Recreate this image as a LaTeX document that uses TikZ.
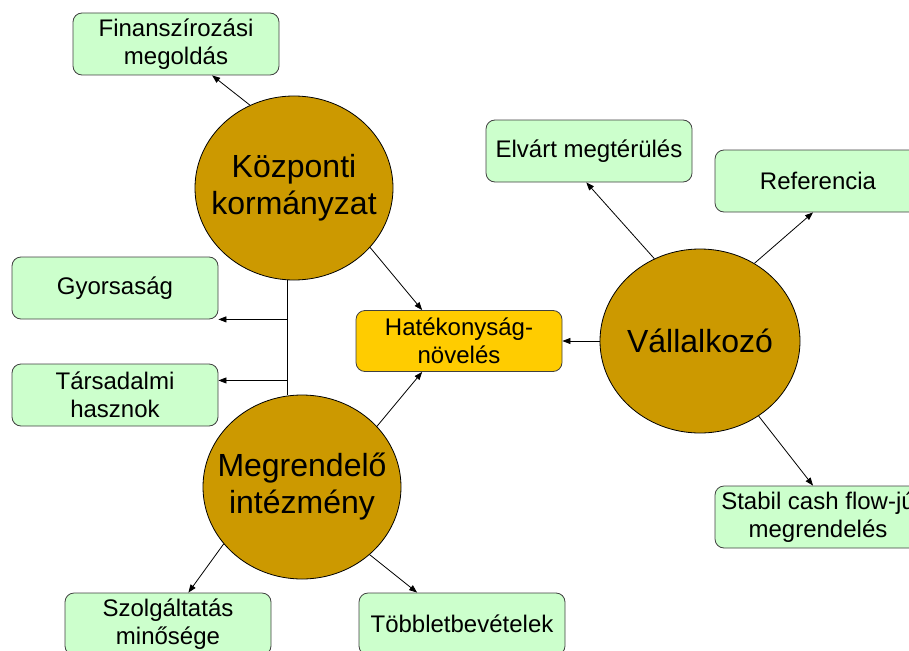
\documentclass[tikz,border=0pt]{standalone}
\usepackage{fontspec}
\setmainfont{Liberation Sans}
\usetikzlibrary{shapes.geometric,arrows.meta}
\definecolor{gold}{HTML}{CC9900}
\definecolor{mint}{HTML}{CCFFCC}
\definecolor{amber}{HTML}{FFCC00}
\begin{document}
\begin{tikzpicture}[x=1pt,y=-1pt,
    actor/.style={ellipse,draw=black,line width=0.8pt,fill=gold,minimum width=198pt,minimum height=184pt,inner sep=0pt,
        label={[align=center,font=\fontsize{32}{37}\selectfont]center:#1}},
    goal/.style={rectangle,rounded corners=9pt,draw=black!75,line width=0.8pt,fill=mint,minimum width=206pt,minimum height=62pt,inner sep=0pt,align=center,font=\fontsize{24}{27.5}\selectfont},
    arr/.style={-{Triangle[length=8pt,width=6pt]},line width=0.8pt}]
    \useasboundingbox (0,0) rectangle (909,650);
    % actors
    \node[actor={Központi\\kormányzat}] (kozp) at (294,188) {};
    \node[actor={Megrendelő\\intézmény}] (megr) at (302,487) {};
    \node[actor={Vállalkozó},minimum width=200pt] (vall) at (700,341) {};
    % goals
    \node[goal,fill=amber,minimum height=61pt] (hat) at (459,341) {Hatékonyság-\\növelés};
    \foreach \id/\x/\y/\txt in {finansz/176/44/{Finanszírozási\\megoldás}, gyors/115/288/{Gyorsaság},
        tars/115/395/{Társadalmi\\hasznok}, szolg/168/624/{Szolgáltatás\\minősége}, tobb/462/624/{Többletbevételek},
        elvart/589/151/{Elvárt megtérülés}, ref/818/181/{Referencia}, stabil/818/517/{Stabil cash flow-jú\\megrendelés}}
        \node[goal] (\id) at (\x,\y) {\txt};
    % connectors
    \foreach \a/\b in {kozp.118/finansz.-41, kozp.-38/hat.140, megr.39/hat.220, megr.216/szolg.57,
        megr.-45/tobb.145, vall.119/elvart.265, vall.55/ref.261, vall.west/hat.east, vall.-52/stabil.99}
        \draw[arr] (\a) -- (\b);
    \coordinate (trunk) at (287,0);
    \draw[line width=0.8pt] (trunk |- kozp.south) -- (trunk |- megr.north);
    \draw[arr] (trunk |- gyors.south east) -- (gyors.south east);
    \draw[arr] (trunk |- tars.8) -- (tars.8);
\end{tikzpicture}
\end{document}
